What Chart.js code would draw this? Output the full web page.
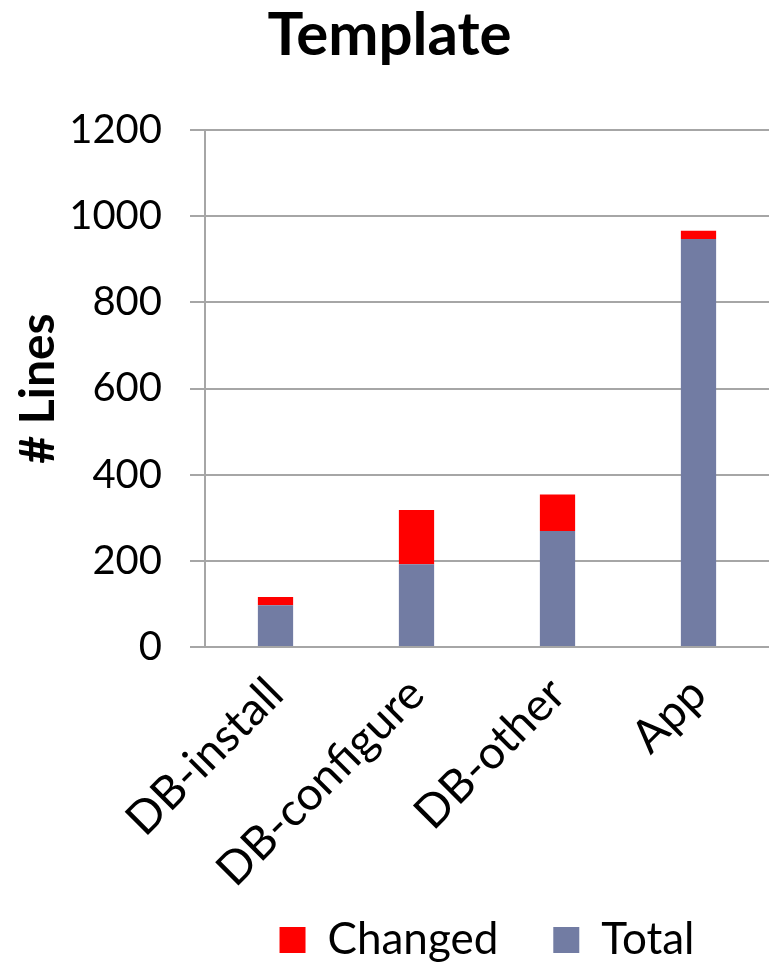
<!DOCTYPE html>
<html>
<head>
<meta charset="utf-8">
<script src="https://cdn.jsdelivr.net/npm/chart.js@4"></script>
<style>
  html, body { margin: 0; padding: 0; background: #fff; }
  #wrap { width: 769px; height: 966px; }
</style>
</head>
<body>
<div id="wrap"><canvas id="linesChart"></canvas></div>
<script>
// line counts per template part
const categories = ["DB-install", "DB-configure", "DB-other", "App"];
const totalLines = [97, 192, 269, 947];
const changedLines = [19, 126, 85, 19];
const yTicks = [0, 200, 400, 600, 800, 1000, 1200];

const FONT = "Lato, 'Open Sans', sans-serif";
const GRID = "#a6a6a6";

// let the slanted x labels run past the axis box, and centre the legend under the plot
const layoutTweaks = {
    id: "layoutTweaks",
    afterLayout(chart) {
        chart.scales.x.bottom = chart.height;
        chart.legend.left = chart.chartArea.left;
        chart.legend.right = chart.width;
    },
};

const ctx = document.getElementById("linesChart").getContext("2d");
new Chart(ctx, {
    type: "bar",
    data: {
        labels: categories,
        datasets: [
            {
                label: "Total",
                data: totalLines,
                backgroundColor: "#727ca3",
                barPercentage: 0.25,
                categoryPercentage: 1.0,
            },
            {
                label: "Changed",
                data: changedLines,
                backgroundColor: "#ff0000",
                barPercentage: 0.25,
                categoryPercentage: 1.0,
            },
        ],
    },
    plugins: [layoutTweaks],
    options: {
        responsive: true,
        maintainAspectRatio: false,
        animation: false,
        layout: { padding: { top: 0, right: 0, bottom: 0, left: 10 } },
        plugins: {
            title: {
                display: true,
                text: "Template",
                color: "#000",
                font: { family: FONT, size: 60, weight: "bold" },
                padding: { top: 0, bottom: 58 },
            },
            legend: {
                position: "bottom",
                reverse: true,
                // wide gap between items, but keep the box short
                maxHeight: 103,
                labels: {
                    color: "#000",
                    font: { family: FONT, size: 44 },
                    boxWidth: 26,
                    boxHeight: 26,
                    padding: 55,
                },
            },
            tooltip: { enabled: false },
        },
        scales: {
            x: {
                stacked: true,
                grid: { display: false },
                border: { display: false },
                afterFit: (scale) => {
                    scale.height = 216;
                },
                ticks: {
                    color: "#000",
                    font: { family: FONT, size: 46 },
                    minRotation: 45,
                    maxRotation: 45,
                    padding: 12,
                },
            },
            y: {
                stacked: true,
                min: 0,
                max: 1200,
                afterBuildTicks: (scale) => {
                    scale.ticks = yTicks.map((v) => ({ value: v }));
                },
                afterFit: (scale) => {
                    scale.width = 195;
                },
                grid: {
                    color: GRID,
                    lineWidth: 2,
                    tickLength: 15,
                },
                border: { color: GRID, width: 2 },
                ticks: {
                    color: "#000",
                    font: { family: FONT, size: 40 },
                    padding: 28,
                    callback: (v) => String(v),
                },
                title: {
                    display: true,
                    text: "# Lines",
                    color: "#000",
                    font: { family: FONT, size: 48, weight: "bold" },
                    padding: 0,
                },
            },
        },
    },
});
</script>
</body>
</html>
